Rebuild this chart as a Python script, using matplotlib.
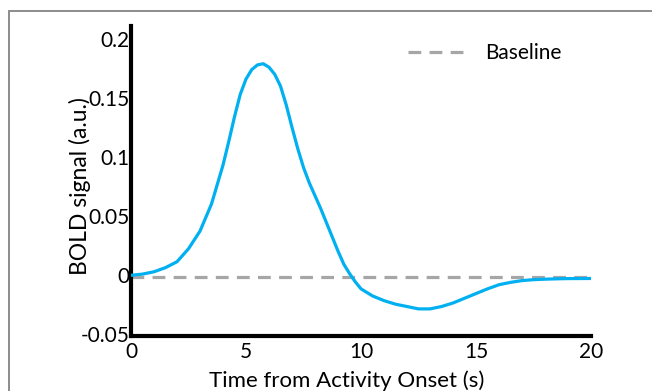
import matplotlib
matplotlib.use("Agg")
import matplotlib.pyplot as plt
from matplotlib.patches import Rectangle

time_s = [0, 0.5, 1, 1.5, 2, 2.5, 3, 3.5, 4, 4.25, 4.5, 4.75, 5, 5.25, 5.5, 5.75,
          6, 6.25, 6.5, 6.75, 7, 7.25, 7.5, 7.75, 8, 8.25, 8.5, 8.75, 9, 9.25, 9.5,
          9.75, 10, 10.5, 11, 11.5, 12, 12.5, 13, 13.5, 14, 14.5, 15, 15.5, 16,
          16.5, 17, 17.5, 18, 18.5, 19, 20]
bold = [0.0015, 0.0025, 0.0045, 0.008, 0.013, 0.024, 0.039, 0.062, 0.095, 0.115,
        0.136, 0.155, 0.168, 0.176, 0.180, 0.181, 0.178, 0.172, 0.162, 0.146, 0.127,
        0.109, 0.093, 0.080, 0.069, 0.058, 0.046, 0.034, 0.022, 0.011, 0.003,
        -0.004, -0.010, -0.016, -0.020, -0.023, -0.025, -0.027, -0.027, -0.025,
        -0.022, -0.018, -0.014, -0.010, -0.0065, -0.0045, -0.003, -0.0022,
        -0.0018, -0.0015, -0.0013, -0.0012]
baseline_x = [0, 20]
baseline_y = [0, 0]
xticks = [0, 5, 10, 15, 20]
yticks = [-0.05, 0, 0.05, 0.1, 0.15, 0.2]
ytick_labels = ["-0.05", "0", "0.05", "0.1", "0.15", "0.2"]

plt.rcParams['font.family'] = ['Lato', 'DejaVu Sans']

W, H = 652, 391
fig = plt.figure(figsize=(W / 100, H / 100), dpi=100)
fig.patch.set_facecolor('white')

# outer frame (cropped box)
fig.patches.append(Rectangle((9 / W, -0.1), 1.2, (H - 11) / H + 0.1,
                             transform=fig.transFigure, fill=False,
                             edgecolor='#8c8c8c', linewidth=1.4))

ax = fig.add_axes([131 / W, (H - 336) / H, (591 - 131) / W, (336 - 26) / H])
ax.plot(baseline_x, baseline_y, color='#a6a6a6', linewidth=2.3,
        dashes=(4, 2.6), label='Baseline', zorder=2)
ax.plot(time_s, bold, color='#00b0f0', linewidth=2.3, zorder=3,
        solid_capstyle='round', solid_joinstyle='round')

ax.set_xlim(0, 20)
ax.set_ylim(-0.05, 0.213)
ax.set_xticks(xticks)
ax.set_xticklabels([str(v) for v in xticks])
ax.set_yticks(yticks)
ax.set_yticklabels(ytick_labels)
ax.tick_params(length=0, labelsize=15)
ax.tick_params(axis='x', pad=4)
ax.tick_params(axis='y', pad=1)
for lab in ax.get_yticklabels():
    lab.set_verticalalignment('center')
for s in ['top', 'right']:
    ax.spines[s].set_visible(False)
for s in ['left', 'bottom']:
    ax.spines[s].set_linewidth(3)
    ax.spines[s].set_color('black')

leg = ax.legend(loc='center right', bbox_to_anchor=(0.935, 0.913), frameon=False,
                fontsize=15, handlelength=2.9, handletextpad=0.8, borderpad=0,
                borderaxespad=0)

fig.text(347 / W, 1 - 381 / H, 'Time from Activity Onset (s)', ha='center',
         va='center', fontsize=16)
fig.text(80 / W, 1 - 186 / H, 'BOLD signal (a.u.)', ha='center', va='center',
         rotation=90, fontsize=16.5)

fig.savefig('out.png', dpi=100, facecolor='white')
